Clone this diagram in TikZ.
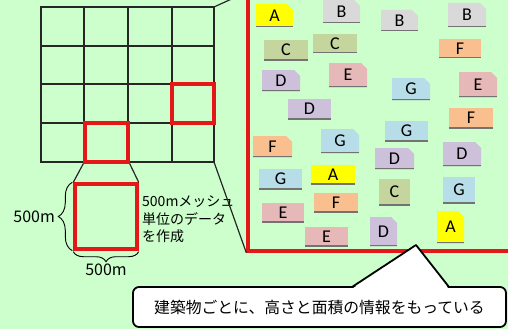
\documentclass[tikz,border=0pt]{standalone}
\usepackage{fontspec}
\setmainfont{Noto Sans CJK JP}
\newfontfamily\bldgfont{Carlito}
\usetikzlibrary{shapes.misc,decorations.pathreplacing}

\definecolor{bg}{RGB}{204,255,204}
\definecolor{meshred}{RGB}{228,24,24}
\definecolor{colA}{RGB}{255,255,0}
\definecolor{colB}{RGB}{217,217,217}
\definecolor{colC}{RGB}{196,213,158}
\definecolor{colD}{RGB}{204,192,218}
\definecolor{colE}{RGB}{230,185,184}
\definecolor{colF}{RGB}{250,191,143}
\definecolor{colG}{RGB}{183,222,232}

\tikzset{
    bldg/.style={rectangle, inner sep=0pt, font=\bldgfont\fontsize{18}{18}\selectfont,
        path picture={\draw[black!55, line width=1.2pt]
            (path picture bounding box.south west) -- (path picture bounding box.south east);}},
    folded/.style={chamfered rectangle, chamfered rectangle corners=north east,
        chamfered rectangle xsep=3pt, chamfered rectangle ysep=3pt},
    typeA/.style={bldg, fill=colA},
    typeB/.style={bldg, fill=colB},
    typeC/.style={bldg, fill=colC},
    typeD/.style={bldg, fill=colD},
    typeE/.style={bldg, fill=colE},
    typeF/.style={bldg, fill=colF},
    typeG/.style={bldg, fill=colG},
    redsq/.style={draw=meshred, line width=3.4pt, inner sep=0pt},
    label/.style={font=\fontsize{16}{16}\selectfont, inner sep=2pt}
}

\begin{document}
\begin{tikzpicture}[x=1pt, y=-1pt]
    \useasboundingbox (0,0) rectangle (508,329);
    \clip (0,0) rectangle (508,329);
    \fill[bg] (0,0) rectangle (508,329);

    % mesh
    \draw[black!85, line width=1.4pt] (41,7) rectangle (214,162)
        (84,7) -- (84,162) (128,7) -- (128,162) (172,7) -- (172,162)
        (41,46) -- (214,46) (41,84) -- (214,84) (41,123) -- (214,123);
    \coordinate (mesh ne) at (214,7);
    \coordinate (mesh se) at (214,162);

    \node[redsq, minimum width=42pt, minimum height=39pt] (hot) at (193,103.5) {};
    \node[redsq, minimum width=43pt, minimum height=39pt] (cell) at (106.5,142.5) {};

    % enlarged mesh
    \node[redsq, minimum width=62pt, minimum height=65pt] (unit) at (106,216.5) {};
    \draw[black!85, line width=1.2pt] (cell.south west) -- (unit.north west);
    \draw[black!85, line width=1.2pt] (cell.south east) -- (unit.north east);

    \draw[decorate, decoration={brace, amplitude=14pt}, line width=0.9pt]
        ([xshift=-1pt]unit.south west) -- ([xshift=-1pt]unit.north west)
        node[label, midway, left=15pt] (side) {500m};
    \draw[decorate, decoration={brace, amplitude=10pt}, line width=0.9pt]
        ([yshift=-1pt]unit.south east) -- ([yshift=-1pt]unit.south west)
        node[label, midway, below=10pt] (base) {500m};

    \node[label, anchor=west, align=left, font=\fontsize{14}{17.5}\selectfont] (desc) at (140,219.5)
        {500mメッシュ\\単位のデータ\\を作成};

    % buildings
    \node[redsq, minimum width=268pt, minimum height=257pt] (area) at (382,122.5) {};
    \draw[black!85, line width=1.2pt] (mesh ne) -- (area.north west);
    \draw[black!85, line width=1.2pt] (mesh se) -- (area.south west);

    \node[typeA, folded, minimum width=37pt, minimum height=23pt] (b1) at (274.5,15.5) {A};
    \node[typeB, folded, minimum width=37pt, minimum height=23pt] (b2) at (341.5,11.5) {B};
    \node[typeB, folded, minimum width=37pt, minimum height=21pt] (b3) at (399.5,20.5) {B};
    \node[typeB, folded, minimum width=38pt, minimum height=24pt] (b4) at (467,15) {B};
    \node[typeC, minimum width=44pt, minimum height=20pt] (b5) at (286,50) {C};
    \node[typeC, minimum width=44pt, minimum height=19pt] (b6) at (335,43.5) {C};
    \node[typeF, minimum width=42pt, minimum height=19pt] (b7) at (460,48.5) {F};
    \node[typeD, folded, minimum width=38pt, minimum height=21pt] (b8) at (281,80.5) {D};
    \node[typeE, folded, minimum width=38pt, minimum height=24pt] (b9) at (348,75) {E};
    \node[typeG, folded, minimum width=38pt, minimum height=22pt] (b10) at (411,89) {G};
    \node[typeE, folded, minimum width=38pt, minimum height=25pt] (b11) at (478,84.5) {E};
    \node[typeD, minimum width=43pt, minimum height=20pt] (b12) at (309.5,109) {D};
    \node[typeF, minimum width=44pt, minimum height=20pt] (b13) at (471,118) {F};
    \node[typeG, minimum width=43pt, minimum height=20pt] (b14) at (406.5,131) {G};
    \node[typeF, folded, minimum width=39pt, minimum height=21pt] (b15) at (272.5,146.5) {F};
    \node[typeG, folded, minimum width=38pt, minimum height=24pt] (b16) at (340,141) {G};
    \node[typeD, folded, minimum width=39pt, minimum height=21pt] (b17) at (394.5,158.5) {D};
    \node[typeD, folded, minimum width=38pt, minimum height=24pt] (b18) at (462,154) {D};
    \node[typeG, minimum width=43pt, minimum height=20pt] (b19) at (280.5,179) {G};
    \node[typeA, minimum width=44pt, minimum height=19pt] (b20) at (333,174.5) {A};
    \node[typeC, minimum width=31pt, minimum height=26pt] (b21) at (394.5,192) {C};
    \node[typeG, minimum width=32pt, minimum height=26pt] (b22) at (459,190) {G};
    \node[typeE, minimum width=42pt, minimum height=19pt] (b23) at (283,212.5) {E};
    \node[typeF, minimum width=44pt, minimum height=19pt] (b24) at (336,202.5) {F};
    \node[typeE, minimum width=43pt, minimum height=19pt] (b25) at (326.5,236.5) {E};
    \node[typeD, folded, minimum width=27pt, minimum height=29pt] (b26) at (383.5,231.5) {D};
    \node[typeA, folded, minimum width=27pt, minimum height=32pt] (b27) at (450.5,227) {A};

    % callout
    \node[draw, fill=white, line width=1.8pt, rounded corners=6pt, minimum width=373pt,
        minimum height=40pt, font=\fontsize{15.8}{16}\selectfont] (note) at (319.5,307)
        {建築物ごとに、高さと面積の情報をもっている};
    \coordinate (tip) at (416,245);
    \fill[white] ([xshift=33pt, yshift=-2.5pt]note.north) -- (tip) -- ([xshift=129pt, yshift=-2.5pt]note.north) -- cycle;
    \draw[line width=1.8pt, line join=round] ([xshift=32.5pt, yshift=-0.9pt]note.north) -- (tip)
        -- ([xshift=129.5pt, yshift=-0.9pt]note.north);
\end{tikzpicture}
\end{document}
